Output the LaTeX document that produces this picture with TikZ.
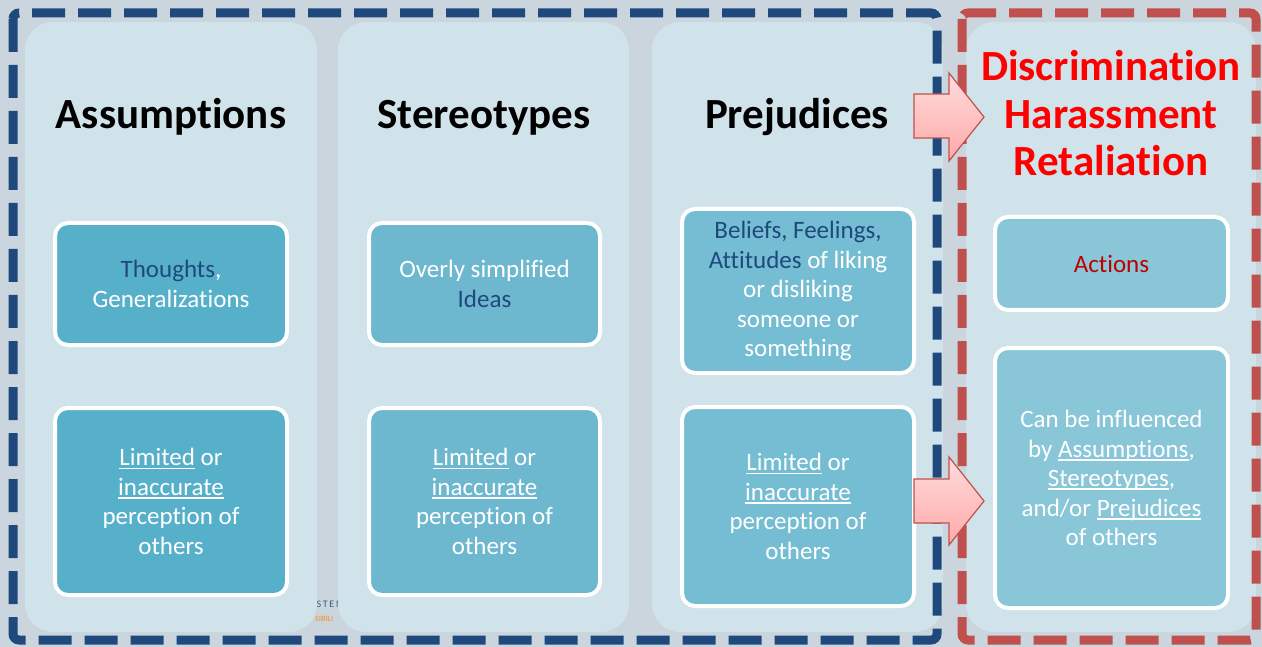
\documentclass[tikz,border=0pt]{standalone}
\usepackage{fontspec}
\setmainfont{Carlito}[RawFeature={-liga;-clig;-calt;-dlig}]
\definecolor{bg}{HTML}{CAD5DD}
\definecolor{panel}{HTML}{D1E3EA}
\definecolor{dblue}{HTML}{1F497D}
\definecolor{dred}{HTML}{C0504D}
\definecolor{cA}{HTML}{57B0CA}
\definecolor{cB}{HTML}{6DB8CF}
\definecolor{cC}{HTML}{75BDD2}
\definecolor{cD}{HTML}{89C6D7}
\definecolor{txtblue}{HTML}{1F497D}
\definecolor{actred}{HTML}{C00000}
\definecolor{hdred}{HTML}{FF0000}
\definecolor{logoblue}{HTML}{3D5A80}
\definecolor{logoorange}{HTML}{F0A050}
\definecolor{pinktop}{HTML}{FFDCDC}
\definecolor{pinkbot}{HTML}{FFA9A9}
\newsavebox\ulbox
\newcommand\myul[1]{\sbox\ulbox{#1}\rlap{\rule[-3.5pt]{\wd\ulbox}{1.6pt}}\usebox\ulbox}
\tikzset{
  panelbox/.style={fill=panel, draw=none, rounded corners=28pt, minimum height=610pt, inner sep=0pt},
  innerbox/.style={fill=#1, draw=white, line width=4pt, rounded corners=13pt, align=center,
    text=white, font=\fontsize{25}{29.5}\selectfont, inner sep=0pt},
  header/.style={font=\fontsize{43}{47.5}\selectfont\bfseries, align=center, anchor=base},
  dashframe/.style={draw=#1, line width=9pt, dash pattern=on 33pt off 13pt, rounded corners=6pt},
  blockarrow/.style={top color=pinktop, bottom color=pinkbot, draw=dred, line width=1.2pt},
}
\begin{document}
\begin{tikzpicture}[x=1pt,y=-1pt]
\useasboundingbox (0,0) rectangle (1262,647);
\fill[bg] (0,0) rectangle (1262,647);
% logo fragment
\node[anchor=base west, inner sep=0pt, text=logoblue, font=\fontsize{10}{10}\selectfont\scshape] (logoa) at (316.5,607) {S\,T\,E\,N};
\node[anchor=base west, inner sep=0pt, text=logoorange, font=\fontsize{8}{8}\selectfont\bfseries] (logob) at (315,621) {SIBILI};
% panels
\node[panelbox, minimum width=292pt] (p1) at (171,327) {};
\node[panelbox, minimum width=291pt] (p2) at (483.5,327) {};
\node[panelbox, minimum width=291pt] (p3) at (797.5,327) {};
\node[panelbox, minimum width=290pt] (p4) at (1111,327) {};
% dashed frames
\draw[dashframe=dblue] (13,13) rectangle (937,640);
\draw[dashframe=dred] (962,13) rectangle (1256,640);
% headers
\node[header] (hA) at (171,129) {Assumptions};
\node[header] (hS) at (484,129) {Stereotypes};
\node[header] (hP) at (797,129) {Prejudices};
\node[header, text=hdred] (hD) at (1111,176) {Discrimination\\Harassment\\Retaliation};
% inner boxes
\node[innerbox=cA, minimum width=232pt, minimum height=122pt] (a1) at (171,284)
  {{\color{txtblue}Thoughts},\\Generalizations};
\node[innerbox=cA, minimum width=232pt, minimum height=187pt] (a2) at (171,501.5)
  {\myul{Limited} or\\\myul{inaccurate}\\perception of\\others};
\node[innerbox=cB, minimum width=231pt, minimum height=122pt] (s1) at (484.5,284)
  {Overly simplified\\{\color{txtblue}Ideas}};
\node[innerbox=cB, minimum width=231pt, minimum height=187pt] (s2) at (484.5,501.5)
  {\myul{Limited} or\\\myul{inaccurate}\\perception of\\others};
\node[innerbox=cC, minimum width=232pt, minimum height=164pt] (q1) at (798,291)
  {{\color{txtblue}Beliefs, Feelings,}\\{\color{txtblue}Attitudes} of liking\\or disliking\\someone or\\something};
\node[innerbox=cC, minimum width=232pt, minimum height=199pt] (q2) at (798,506.5)
  {\myul{Limited} or\\\myul{inaccurate}\\perception of\\others};
\node[innerbox=cD, minimum width=233pt, minimum height=93pt] (d1) at (1111.5,263.5)
  {{\color{actred}Actions}};
\node[innerbox=cD, minimum width=233pt, minimum height=260pt] (d2) at (1111.5,478)
  {Can be influenced\\by \myul{Assumptions},\\\myul{Stereotypes},\\and/or \myul{Prejudices}\\of others};
% block arrows
\draw[blockarrow] (914,94) -- (949,94) -- (949,73) -- (984,117) -- (949,161) -- (949,138) -- (914,138) -- cycle;
\draw[blockarrow] (914,479) -- (949,479) -- (949,457) -- (984,501) -- (949,545) -- (949,523) -- (914,523) -- cycle;
\end{tikzpicture}
\end{document}
